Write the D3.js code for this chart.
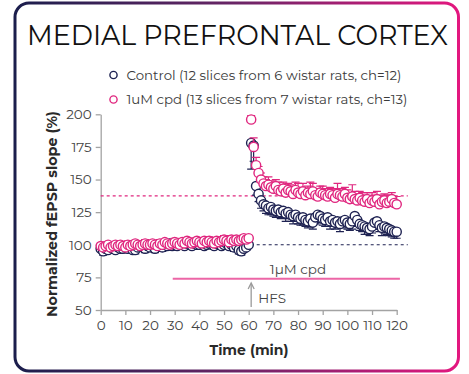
<!DOCTYPE html>
<html>
<head>
<meta charset="utf-8">
<script src="https://cdn.jsdelivr.net/npm/d3@7"></script>
<style>
  body { margin: 0; background: #fff; }
  svg { display: block; }
</style>
</head>
<body>
<div id="chart"></div>
<script>
'use strict';

const width = 469;
const height = 374;

// one sample per minute, HFS at 61 min
const minutes = d3.range(0, 121);

const controlSlope = [
  97, 95, 97, 96, 98, 97, 96, 98, 97, 97,
  98, 97, 99, 96, 96, 98, 99, 98, 97, 99,
  98, 99, 97, 100, 99, 98, 100, 99, 101, 99,
  100, 99, 101, 100, 99, 101, 100, 99, 101, 100,
  100, 101, 99, 100, 101, 100, 99, 101, 100, 99,
  100, 101, 99, 100, 98, 99, 96, 95, 97, 98, 100,
  178, 176, 145, 139, 134, 131, 130, 128, 129, 127,
  126, 127, 125, 126, 124, 125, 123, 122, 123, 121,
  120, 121, 119, 118, 120, 117, 121, 123, 122, 120,
  119, 121, 118, 119, 117, 118, 116, 118, 119, 117,
  116, 118, 122, 119, 116, 115, 114, 113, 112, 114,
  117, 118, 115, 113, 114, 113, 112, 111, 110, 110
];
const controlSem = [
  2, 3, 2, 2, 3, 2, 2, 3, 2, 2,
  2, 3, 2, 2, 3, 2, 2, 2, 3, 2,
  2, 2, 3, 2, 2, 3, 2, 2, 2, 3,
  2, 2, 3, 2, 2, 2, 3, 2, 2, 3,
  2, 3, 2, 2, 3, 2, 2, 2, 3, 2,
  2, 3, 2, 2, 3, 2, 3, 3, 2, 2, 2,
  20, 12, 7, 6, 6, 5, 6, 5, 6, 5,
  5, 6, 5, 5, 6, 5, 5, 6, 5, 5,
  5, 6, 5, 5, 6, 5, 5, 6, 5, 5,
  5, 5, 6, 5, 5, 5, 6, 5, 5, 5,
  5, 6, 5, 5, 5, 5, 6, 5, 5, 5,
  5, 5, 5, 6, 5, 5, 5, 5, 5, 5
];
const cpdSlope = [
  99, 98, 99, 100, 98, 99, 100, 99, 100, 99,
  98, 100, 99, 100, 101, 100, 99, 100, 101, 100,
  100, 101, 100, 99, 101, 100, 102, 101, 100, 101,
  102, 101, 100, 102, 101, 103, 102, 101, 102, 103,
  102, 101, 103, 102, 103, 102, 101, 103, 102, 103,
  104, 103, 102, 104, 103, 104, 103, 104, 105, 104, 105,
  196, 175, 161, 155, 150, 147, 145, 146, 144, 143,
  145, 142, 141, 143, 140, 142, 141, 139, 142, 140,
  139, 141, 138, 140, 139, 141, 138, 137, 140, 139,
  138, 137, 139, 138, 136, 139, 138, 137, 139, 136,
  135, 137, 135, 134, 136, 134, 133, 135, 132, 134,
  133, 135, 131, 133, 134, 132, 133, 135, 132, 131
];
const cpdSem = [
  2, 2, 3, 2, 2, 3, 2, 2, 2, 3,
  2, 3, 2, 2, 2, 3, 2, 2, 3, 2,
  2, 2, 3, 2, 3, 2, 2, 3, 2, 2,
  3, 2, 2, 2, 3, 2, 2, 3, 2, 2,
  2, 3, 2, 2, 3, 2, 2, 2, 3, 2,
  3, 2, 2, 3, 2, 2, 3, 2, 2, 3, 2,
  3, 7, 6, 5, 5, 5, 5, 6, 5, 5,
  5, 6, 5, 5, 6, 5, 5, 6, 6, 7,
  5, 6, 5, 5, 9, 6, 5, 6, 5, 6,
  5, 6, 5, 5, 6, 8, 5, 6, 5, 6,
  5, 9, 6, 5, 5, 6, 5, 5, 5, 6,
  5, 6, 5, 5, 5, 6, 5, 5, 5, 6
];

const xTicks = [0, 10, 20, 30, 40, 50, 60, 70, 80, 90, 100, 110, 120];
const yTicks = [50, 75, 100, 125, 150, 175, 200];
const legendLabels = [
  'Control (12 slices from 6 wistar rats, ch=12)',
  '1uM cpd (13 slices from 7 wistar rats, ch=13)'
];
const controlLevel = 100;
const cpdLevel = 137.5;
const hfsTime = 61;
const cpdPeriod = [29.2, 121.3];

const navy = '#1e2252';
const pink = '#e0277f';
const axisGray = '#a3a3a3';
const font = "Montserrat, 'Open Sans', sans-serif";

const svg = d3.select('#chart').append('svg')
  .attr('width', width)
  .attr('height', height);

// frame with gradient border
const grad = svg.append('defs').append('linearGradient')
  .attr('id', 'frame-grad')
  .attr('x1', '0%').attr('x2', '100%').attr('y1', '0%').attr('y2', '0%');
grad.append('stop').attr('offset', '0%').attr('stop-color', '#1b1e4c');
grad.append('stop').attr('offset', '50%').attr('stop-color', '#6a2566');
grad.append('stop').attr('offset', '100%').attr('stop-color', '#e3177f');

svg.append('rect')
  .attr('x', 15).attr('y', 3)
  .attr('width', 443.5).attr('height', 368)
  .attr('rx', 14)
  .attr('fill', '#fff')
  .attr('stroke', 'url(#frame-grad)')
  .attr('stroke-width', 3);

svg.append('text')
  .attr('x', 237.5).attr('y', 45)
  .attr('text-anchor', 'middle')
  .attr('textLength', 421)
  .attr('lengthAdjust', 'spacingAndGlyphs')
  .style('font-family', font)
  .style('font-size', '28px')
  .style('fill', '#111')
  .text('MEDIAL PREFRONTAL CORTEX');

// legend
const legendColors = [navy, pink];
const legendLengths = [275, 281];
legendLabels.forEach((label, i) => {
  const ly = 75 + i * 24.5;
  svg.append('circle')
    .attr('cx', 113.5).attr('cy', ly).attr('r', 3.6)
    .attr('fill', '#fff').attr('stroke', legendColors[i]).attr('stroke-width', 1.4);
  svg.append('text')
    .attr('x', 126.5).attr('y', ly + 4.6)
    .attr('textLength', legendLengths[i])
    .attr('lengthAdjust', 'spacingAndGlyphs')
    .style('font-family', font)
    .style('font-size', '13.5px')
    .style('fill', '#3a3a3a')
    .text(label);
});

const x = d3.scaleLinear().domain([0, 120]).range([100.7, 396.7]);
const y = d3.scaleLinear().domain([50, 200]).range([310, 114.3]);

// axes
const xAxis = svg.append('g')
  .attr('transform', `translate(0,${y(50)})`)
  .call(d3.axisBottom(x).tickValues(xTicks).tickSize(5).tickSizeOuter(0).tickPadding(5));
const yAxis = svg.append('g')
  .attr('transform', `translate(${x(0)},0)`)
  .call(d3.axisLeft(y).tickValues(yTicks).tickSize(5).tickSizeOuter(0).tickPadding(4));

[xAxis, yAxis].forEach(g => {
  g.select('.domain').attr('stroke', axisGray).attr('stroke-width', 1.3);
  g.selectAll('.tick line').attr('stroke', axisGray).attr('stroke-width', 1.3);
  g.selectAll('.tick text')
    .style('font-family', font)
    .style('font-size', '13.5px')
    .style('fill', '#444');
});

svg.append('text')
  .attr('x', 249).attr('y', 355)
  .attr('text-anchor', 'middle')
  .style('font-family', font)
  .style('font-size', '14px')
  .style('font-weight', 'bold')
  .style('fill', '#2a2a2a')
  .text('Time (min)');

svg.append('text')
  .attr('transform', `translate(57,214) rotate(-90)`)
  .attr('text-anchor', 'middle')
  .attr('textLength', 206)
  .attr('lengthAdjust', 'spacingAndGlyphs')
  .style('font-family', font)
  .style('font-size', '14px')
  .style('font-weight', 'bold')
  .style('fill', '#2a2a2a')
  .text('Normalized fEPSP slope (%)');

// reference levels
svg.append('line')
  .attr('x1', x(0)).attr('x2', x(124.5))
  .attr('y1', y(controlLevel)).attr('y2', y(controlLevel))
  .attr('stroke', navy).attr('stroke-width', 1.2)
  .attr('stroke-dasharray', '3,3');
svg.append('line')
  .attr('x1', x(0)).attr('x2', x(124.5))
  .attr('y1', y(cpdLevel)).attr('y2', y(cpdLevel))
  .attr('stroke', pink).attr('stroke-width', 1.2)
  .attr('stroke-dasharray', '3,3');

// treatment bar + HFS marker
const barY = y(74);
svg.append('line')
  .attr('x1', x(cpdPeriod[0])).attr('x2', x(cpdPeriod[1]))
  .attr('y1', barY).attr('y2', barY)
  .attr('stroke', '#ec66a6').attr('stroke-width', 2);
svg.append('text')
  .attr('x', 298).attr('y', barY - 5)
  .attr('text-anchor', 'middle')
  .style('font-family', font)
  .style('font-size', '13.5px')
  .style('fill', '#444')
  .text('1μM cpd');

const hx = x(hfsTime);
svg.append('line')
  .attr('x1', hx).attr('x2', hx)
  .attr('y1', 307).attr('y2', 284)
  .attr('stroke', '#9a9a9a').attr('stroke-width', 1.3);
svg.append('path')
  .attr('d', `M${hx - 3},${289} L${hx},${283} L${hx + 3},${289}`)
  .attr('fill', 'none').attr('stroke', '#9a9a9a').attr('stroke-width', 1.3);
svg.append('text')
  .attr('x', hx + 7).attr('y', 302.5)
  .style('font-family', font)
  .style('font-size', '13.5px')
  .style('fill', '#444')
  .text('HFS');

// data series: error bars then circles
function drawSeries(values, sem, color, dir) {
  const g = svg.append('g');
  const pts = minutes.map((t, i) => ({ t, v: values[i], e: sem[i] }));
  g.selectAll('path.err')
    .data(pts)
    .enter().append('path')
    .attr('class', 'err')
    .attr('d', d => {
      const cx = x(d.t);
      const yEnd = y(d.v + dir * d.e);
      return `M${cx},${y(d.v)} L${cx},${yEnd} M${cx - 4},${yEnd} L${cx + 4},${yEnd}`;
    })
    .attr('fill', 'none')
    .attr('stroke', color)
    .attr('stroke-width', 1.2);
  g.selectAll('circle')
    .data(pts)
    .enter().append('circle')
    .attr('cx', d => x(d.t))
    .attr('cy', d => y(d.v))
    .attr('r', 4.6)
    .attr('fill', '#fff')
    .attr('stroke', color)
    .attr('stroke-width', 1.4);
}

drawSeries(controlSlope, controlSem, navy, -1);
drawSeries(cpdSlope, cpdSem, pink, 1);
</script>
</body>
</html>
